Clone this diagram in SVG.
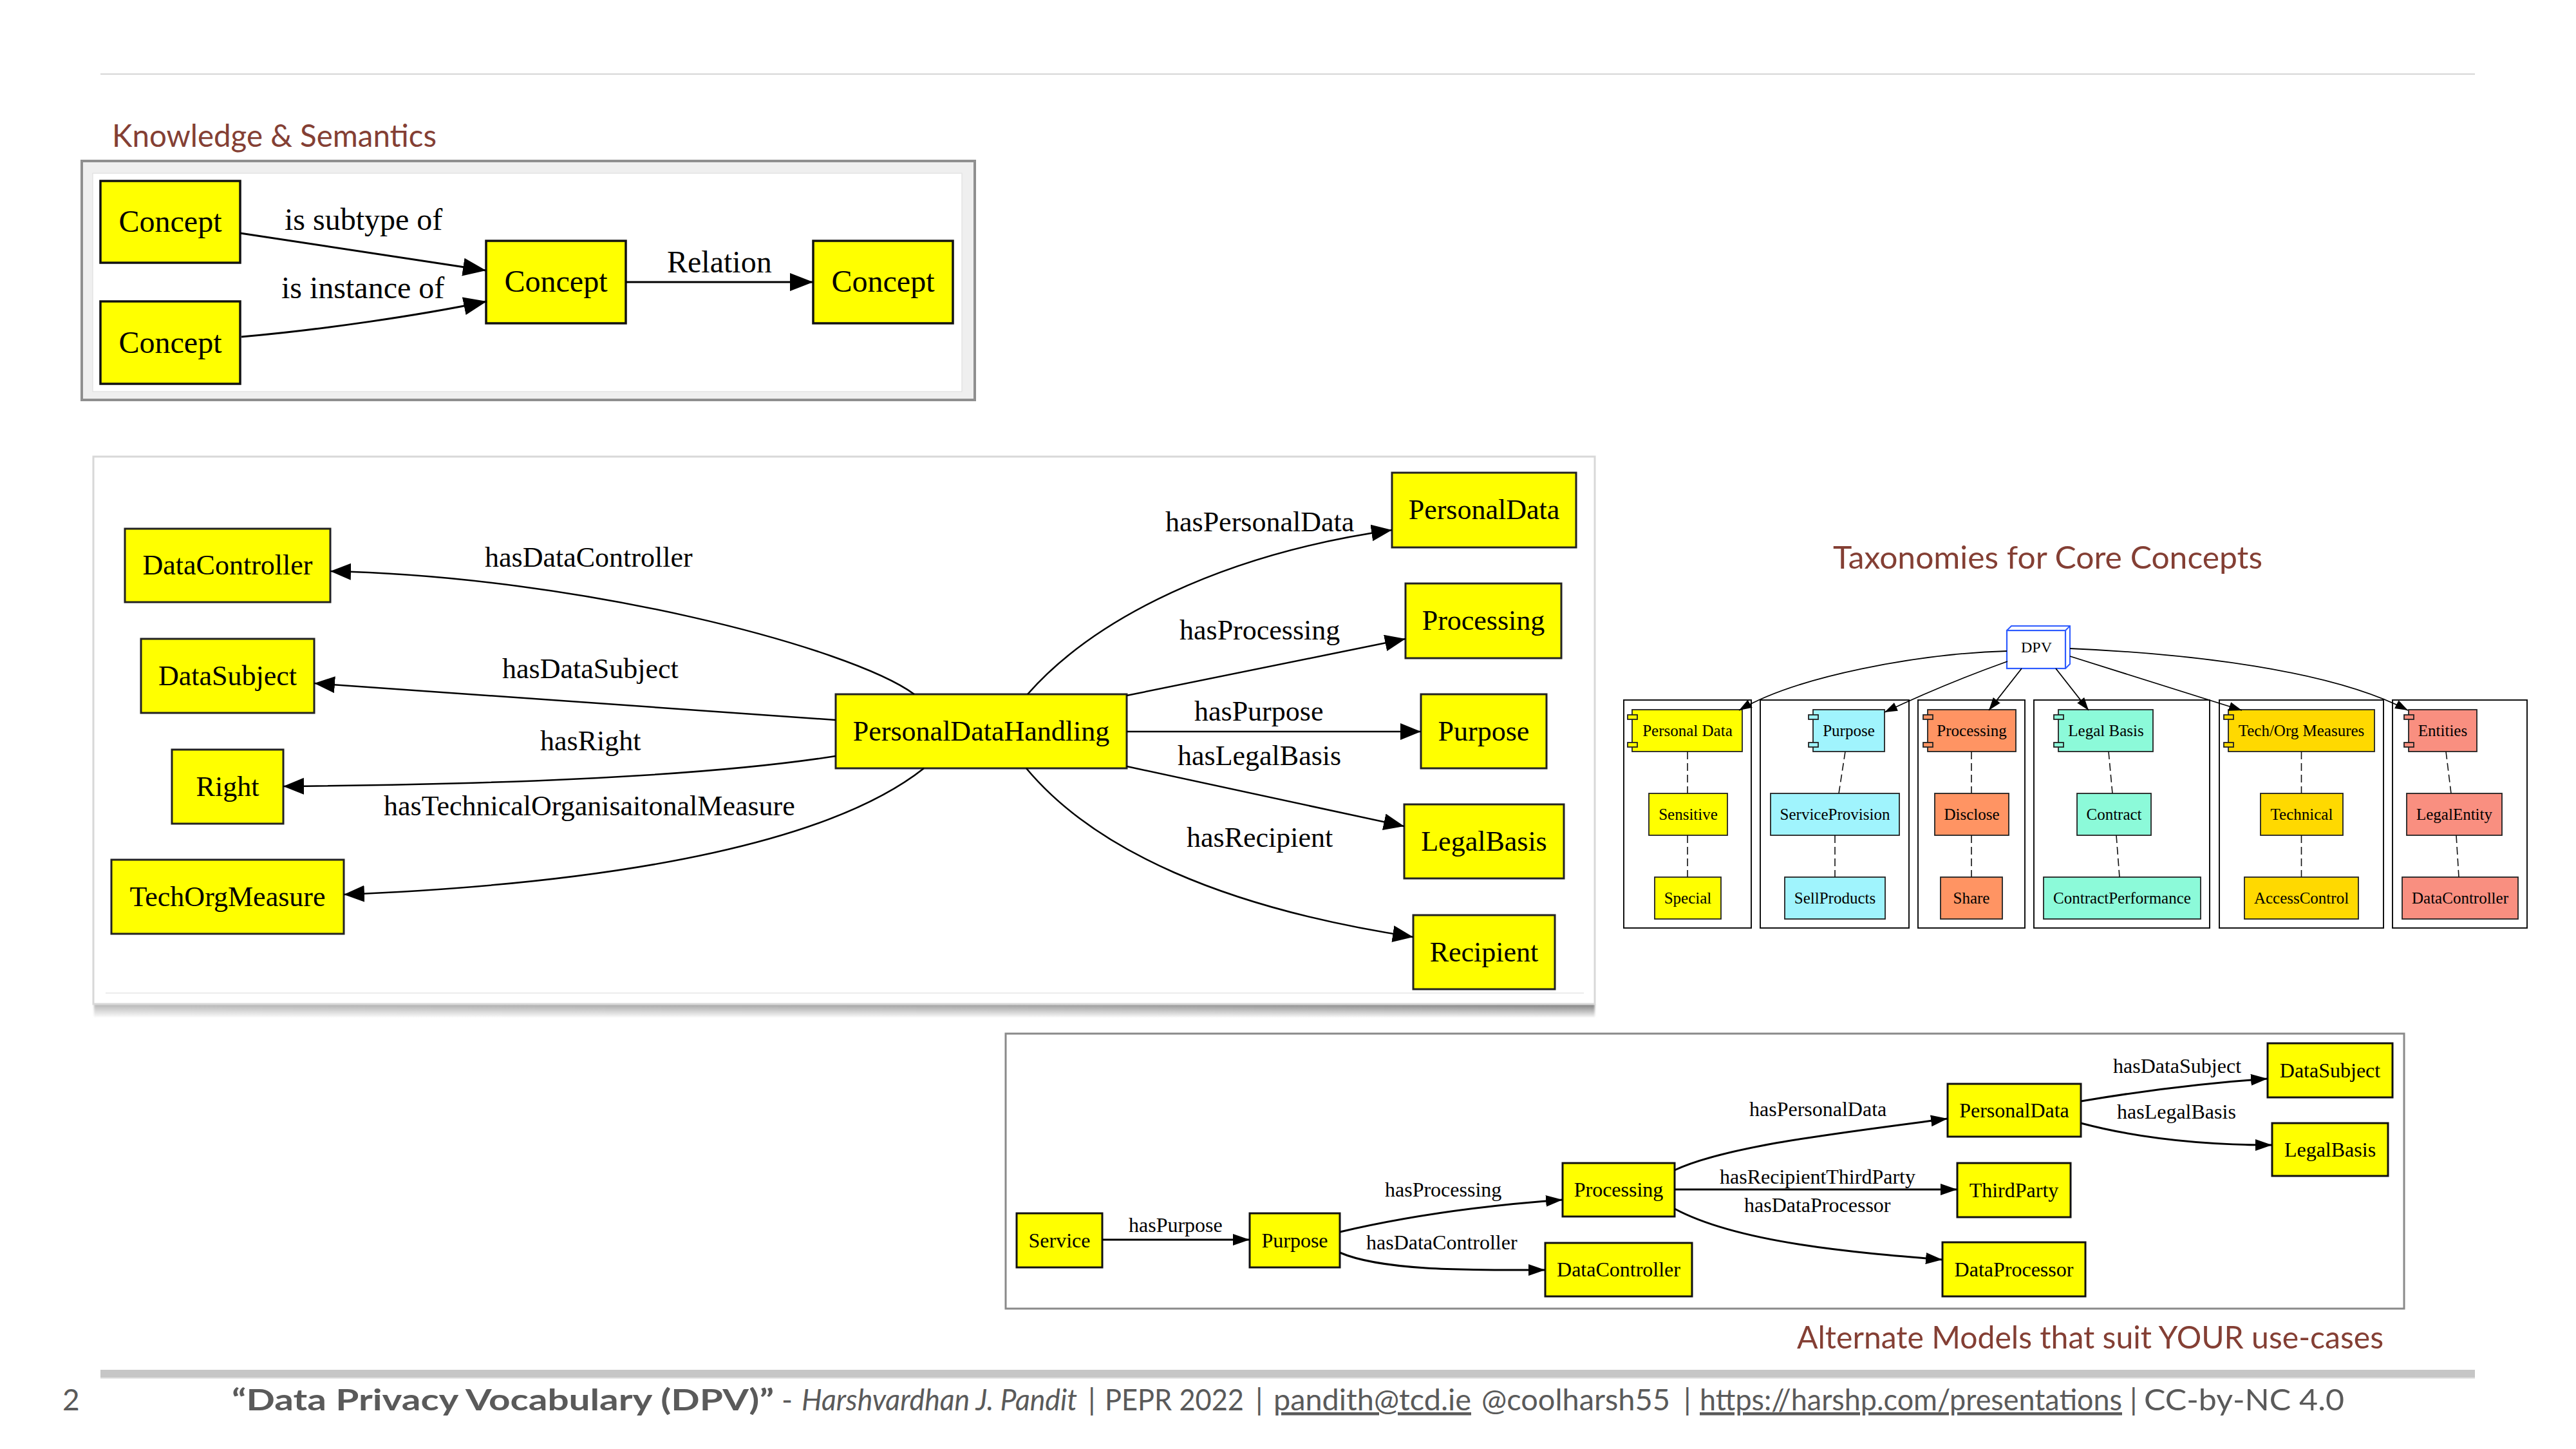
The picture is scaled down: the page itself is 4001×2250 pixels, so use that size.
<svg xmlns="http://www.w3.org/2000/svg" width="4001" height="2250" viewBox="0 0 4001 2250">
<style>
.h{font-family:Lato,"Open Sans",sans-serif;font-size:48px;fill:#843f34}
.s{font-family:"Liberation Serif","Times New Roman",serif;fill:#000}
.s48{font-size:48px}.s44{font-size:44px}.s32{font-size:32px}.s25{font-size:25px}.s24{font-size:24px}
.c{text-anchor:middle}
.ny{fill:#ffff00;stroke:#111;stroke-width:3.5}
.nc{fill:#ffff00;stroke:#222;stroke-width:3}
.na{fill:#ffff00;stroke:#111;stroke-width:3}
.nt{stroke:#222;stroke-width:1.8}
.cl{fill:none;stroke:#111;stroke-width:2}
.e{fill:none;stroke:#000}
.e1{stroke-width:3;marker-end:url(#aL)}
.e2{stroke-width:2.5;marker-end:url(#aM)}
.e3{stroke-width:3;marker-end:url(#aS)}
.e4{stroke-width:1.8;marker-end:url(#aT)}
.d{fill:none;stroke:#111;stroke-width:1.6;stroke-dasharray:12 6}
.yel{fill:#ffff00}.cya{fill:#a0f4fd}.org{fill:#ff9463}.aqu{fill:#8cfad9}.gld{fill:#ffd900}.sal{fill:#f98f80}
.f{font-family:Lato,"Open Sans",sans-serif;font-size:46px;fill:#5a5a5a}
</style>
<defs>
  <marker id="aL" markerUnits="userSpaceOnUse" markerWidth="40" markerHeight="32" refX="36" refY="14" orient="auto"><path d="M0,0 L36,14 L0,28 Z"/></marker>
  <marker id="aM" markerUnits="userSpaceOnUse" markerWidth="36" markerHeight="30" refX="32" refY="13" orient="auto"><path d="M0,0 L32,13 L0,26 Z"/></marker>
  <marker id="aS" markerUnits="userSpaceOnUse" markerWidth="30" markerHeight="22" refX="26" refY="9" orient="auto"><path d="M0,0 L26,9 L0,18 Z"/></marker>
  <marker id="aT" markerUnits="userSpaceOnUse" markerWidth="24" markerHeight="18" refX="20" refY="7" orient="auto"><path d="M0,0 L20,7 L0,14 Z"/></marker>
  <linearGradient id="shh" x1="0" y1="0" x2="1" y2="0"><stop offset="0" stop-color="#b4b4b4"/><stop offset="0.6" stop-color="#9a9a9a"/><stop offset="1" stop-color="#7a7a7a"/></linearGradient>
  <linearGradient id="fadeV" x1="0" y1="0" x2="0" y2="1"><stop offset="0" stop-color="#fff"/><stop offset="1" stop-color="#000"/></linearGradient>
  <mask id="shm" maskUnits="userSpaceOnUse" x="130" y="1550" width="2360" height="40"><rect x="130" y="1559" width="2360" height="22" fill="url(#fadeV)"/></mask>
  <filter id="bl" x="-0.01" y="-0.5" width="1.02" height="2"><feGaussianBlur stdDeviation="1.5"/></filter>
</defs>

<rect width="4001" height="2250" fill="#fff"/>
<!-- header rule -->
<rect x="156" y="114" width="3688" height="2" fill="#d6d6d6"/>

<!-- section titles -->
<text class="h" x="174" y="228" textLength="504" lengthAdjust="spacingAndGlyphs">Knowledge &amp; Semantics</text>
<text class="h" x="1114" y="1489" textLength="657" lengthAdjust="spacingAndGlyphs">The Base / Core Model in DPV</text>
<text class="h" x="2847" y="883" textLength="667" lengthAdjust="spacingAndGlyphs">Taxonomies for Core Concepts</text>
<text class="h" x="2791" y="2094" textLength="911" lengthAdjust="spacingAndGlyphs">Alternate Models that suit YOUR use-cases</text>

<!-- ===== Knowledge & Semantics panel ===== -->
<g id="panel-knowledge">
  <rect x="127" y="250" width="1387" height="371" fill="#efefef" stroke="#8f8f8f" stroke-width="4"/>
  <rect x="144" y="269" width="1350" height="339" fill="#fff" stroke="#e4e4e4" stroke-width="1.5"/>
</g>
<g id="k-concept-a"><rect class="ny" x="156" y="281" width="217" height="127"/><text class="s s48 c" x="264.5" y="360">Concept</text></g>
<g id="k-concept-b"><rect class="ny" x="156" y="468" width="217" height="128"/><text class="s s48 c" x="264.5" y="548">Concept</text></g>
<g id="k-concept-c"><rect class="ny" x="755" y="374" width="217" height="128"/><text class="s s48 c" x="863.5" y="453">Concept</text></g>
<g id="k-concept-d"><rect class="ny" x="1263" y="374" width="217" height="128"/><text class="s s48 c" x="1371.5" y="453">Concept</text></g>
<g id="k-edges">
  <path class="e e1" d="M373,362 L755,420"/>
  <path class="e e1" d="M375,523 C500,512 650,490 756,468"/>
  <path class="e e1" d="M972,438 L1263,438"/>
  <text class="s s48" x="442" y="357">is subtype of</text>
  <text class="s s48" x="437" y="463">is instance of</text>
  <text class="s s48" x="1036" y="423">Relation</text>
</g>

<!-- ===== Core model panel ===== -->
<g id="panel-core">
  <rect x="146" y="1559" width="2331" height="22" fill="url(#shh)" mask="url(#shm)" filter="url(#bl)"/>
  <rect x="145" y="709" width="2332" height="850" fill="#fff" stroke="#d8d8d8" stroke-width="3"/>
  <line x1="164" y1="1542" x2="2460" y2="1542" stroke="#e6e6e6" stroke-width="1.5"/>
</g>
<g id="c-datacontroller"><rect class="nc" x="194" y="821" width="319" height="114"/><text class="s s44 c" x="353.5" y="892">DataController</text></g>
<g id="c-datasubject"><rect class="nc" x="219" y="992" width="269" height="115"/><text class="s s44 c" x="353.5" y="1064">DataSubject</text></g>
<g id="c-right"><rect class="nc" x="267" y="1164" width="173" height="115"/><text class="s s44 c" x="353.5" y="1236">Right</text></g>
<g id="c-techorgmeasure"><rect class="nc" x="173" y="1335" width="361" height="115"/><text class="s s44 c" x="353.5" y="1407">TechOrgMeasure</text></g>
<g id="c-personaldatahandling"><rect class="nc" x="1298" y="1078" width="452" height="115"/><text class="s s44 c" x="1524" y="1150">PersonalDataHandling</text></g>
<g id="c-personaldata"><rect class="nc" x="2162" y="734" width="286" height="116"/><text class="s s44 c" x="2305" y="806">PersonalData</text></g>
<g id="c-processing"><rect class="nc" x="2183" y="906" width="242" height="116"/><text class="s s44 c" x="2304" y="978">Processing</text></g>
<g id="c-purpose"><rect class="nc" x="2207" y="1078" width="195" height="115"/><text class="s s44 c" x="2304.5" y="1150">Purpose</text></g>
<g id="c-legalbasis"><rect class="nc" x="2181" y="1249" width="248" height="115"/><text class="s s44 c" x="2305" y="1321">LegalBasis</text></g>
<g id="c-recipient"><rect class="nc" x="2195" y="1421" width="220" height="115"/><text class="s s44 c" x="2305" y="1493">Recipient</text></g>
<g id="c-edges">
  <path class="e e2" d="M1420,1078 C1320,1005 900,895 513,887"/>
  <path class="e e2" d="M1298,1118 L488,1061"/>
  <path class="e e2" d="M1298,1174 C1100,1205 800,1218 440,1221"/>
  <path class="e e2" d="M1435,1193 C1300,1300 1000,1370 534,1389"/>
  <path class="e e2" d="M1596,1078 C1700,960 1900,860 2162,823"/>
  <path class="e e2" d="M1750,1080 L2183,992"/>
  <path class="e e2" d="M1750,1136 L2207,1136"/>
  <path class="e e2" d="M1750,1190 L2181,1283"/>
  <path class="e e2" d="M1594,1193 C1700,1320 1900,1410 2195,1455"/>
  <text class="s s44" x="753" y="880">hasDataController</text>
  <text class="s s44" x="780" y="1053">hasDataSubject</text>
  <text class="s s44" x="839" y="1165">hasRight</text>
  <text class="s s44" x="596" y="1266">hasTechnicalOrganisaitonalMeasure</text>
  <text class="s s44" x="1810" y="825">hasPersonalData</text>
  <text class="s s44" x="1832" y="993">hasProcessing</text>
  <text class="s s44" x="1855" y="1119">hasPurpose</text>
  <text class="s s44" x="1829" y="1188">hasLegalBasis</text>
  <text class="s s44" x="1843" y="1315">hasRecipient</text>
</g>

<!-- ===== Taxonomies ===== -->
<g id="t-clusters">
  <rect class="cl" x="2522" y="1087" width="198" height="354"/>
  <rect class="cl" x="2734" y="1087" width="231" height="354"/>
  <rect class="cl" x="2979" y="1087" width="166" height="354"/>
  <rect class="cl" x="3159" y="1087" width="273" height="354"/>
  <rect class="cl" x="3447" y="1087" width="255" height="354"/>
  <rect class="cl" x="3716" y="1087" width="209" height="354"/>
</g>
<g id="t-dpv">
  <path d="M3117,979 L3124,972 L3215,972 L3215,1031 L3208,1038" fill="#fff" stroke="#2e5bff" stroke-width="2"/>
  <path d="M3208,979 L3215,972" fill="none" stroke="#2e5bff" stroke-width="2"/>
  <rect x="3117" y="979" width="91" height="59" fill="#fff" stroke="#2e5bff" stroke-width="2.2"/>
  <text class="s s24 c" x="3163" y="1013">DPV</text>
</g>
<g id="t-personal-data"><rect class="nt yel" x="2535" y="1102" width="171" height="65"/><rect class="nt yel" x="2528" y="1110" width="15" height="7"/><rect class="nt yel" x="2528" y="1153" width="15" height="7"/><text class="s s25 c" x="2621" y="1143">Personal Data</text></g>
<g id="t-sensitive"><rect class="nt yel" x="2561" y="1232" width="122" height="65"/><text class="s s25 c" x="2622" y="1273">Sensitive</text></g>
<g id="t-special"><rect class="nt yel" x="2570" y="1362" width="103" height="65"/><text class="s s25 c" x="2621.5" y="1403">Special</text></g>
<g id="t-purpose"><rect class="nt cya" x="2816" y="1102" width="111" height="65"/><rect class="nt cya" x="2809" y="1110" width="15" height="7"/><rect class="nt cya" x="2809" y="1153" width="15" height="7"/><text class="s s25 c" x="2871.5" y="1143">Purpose</text></g>
<g id="t-serviceprovision"><rect class="nt cya" x="2750" y="1232" width="200" height="65"/><text class="s s25 c" x="2850" y="1273">ServiceProvision</text></g>
<g id="t-sellproducts"><rect class="nt cya" x="2772" y="1362" width="156" height="65"/><text class="s s25 c" x="2850" y="1403">SellProducts</text></g>
<g id="t-processing"><rect class="nt org" x="2994" y="1102" width="137" height="65"/><rect class="nt org" x="2987" y="1110" width="15" height="7"/><rect class="nt org" x="2987" y="1153" width="15" height="7"/><text class="s s25 c" x="3062.5" y="1143">Processing</text></g>
<g id="t-disclose"><rect class="nt org" x="3005" y="1232" width="115" height="65"/><text class="s s25 c" x="3062.5" y="1273">Disclose</text></g>
<g id="t-share"><rect class="nt org" x="3014" y="1362" width="96" height="65"/><text class="s s25 c" x="3062" y="1403">Share</text></g>
<g id="t-legal-basis"><rect class="nt aqu" x="3197" y="1102" width="147" height="65"/><rect class="nt aqu" x="3190" y="1110" width="15" height="7"/><rect class="nt aqu" x="3190" y="1153" width="15" height="7"/><text class="s s25 c" x="3271" y="1143">Legal Basis</text></g>
<g id="t-contract"><rect class="nt aqu" x="3226" y="1232" width="115" height="65"/><text class="s s25 c" x="3283.5" y="1273">Contract</text></g>
<g id="t-contractperformance"><rect class="nt aqu" x="3174" y="1362" width="244" height="65"/><text class="s s25 c" x="3296" y="1403">ContractPerformance</text></g>
<g id="t-techorg-measures"><rect class="nt gld" x="3461" y="1102" width="227" height="65"/><rect class="nt gld" x="3454" y="1110" width="15" height="7"/><rect class="nt gld" x="3454" y="1153" width="15" height="7"/><text class="s s25 c" x="3574.5" y="1143">Tech/Org Measures</text></g>
<g id="t-technical"><rect class="nt gld" x="3511" y="1232" width="128" height="65"/><text class="s s25 c" x="3575" y="1273">Technical</text></g>
<g id="t-accesscontrol"><rect class="nt gld" x="3486" y="1362" width="177" height="65"/><text class="s s25 c" x="3574.5" y="1403">AccessControl</text></g>
<g id="t-entities"><rect class="nt sal" x="3741" y="1102" width="106" height="65"/><rect class="nt sal" x="3734" y="1110" width="15" height="7"/><rect class="nt sal" x="3734" y="1153" width="15" height="7"/><text class="s s25 c" x="3794" y="1143">Entities</text></g>
<g id="t-legalentity"><rect class="nt sal" x="3738" y="1232" width="148" height="65"/><text class="s s25 c" x="3812" y="1273">LegalEntity</text></g>
<g id="t-datacontroller"><rect class="nt sal" x="3731" y="1362" width="180" height="65"/><text class="s s25 c" x="3821" y="1403">DataController</text></g>
<g id="t-edges">
  <path class="e e4" d="M3117,1011 C2980,1015 2790,1050 2701,1103"/>
  <path class="e e4" d="M3118,1027 Q3020,1062 2927,1106"/>
  <path class="e e4" d="M3140,1038 L3089,1103"/>
  <path class="e e4" d="M3193,1038 L3244,1103"/>
  <path class="e e4" d="M3215,1019 L3482,1103"/>
  <path class="e e4" d="M3215,1007 C3400,1015 3620,1040 3740,1103"/>
  <path class="d" d="M2621,1167 L2621,1232 M2621,1297 L2621,1362"/>
  <path class="d" d="M2866,1167 L2856,1232 M2850,1297 L2850,1362"/>
  <path class="d" d="M3062,1167 L3062,1232 M3062,1297 L3062,1362"/>
  <path class="d" d="M3275,1167 L3281,1232 M3287,1297 L3292,1362"/>
  <path class="d" d="M3574.5,1167 L3574.5,1232 M3574.5,1297 L3574.5,1362"/>
  <path class="d" d="M3799,1167 L3807,1232 M3815,1297 L3819,1362"/>
</g>

<!-- ===== Alternate model panel ===== -->
<g id="panel-alt"><rect x="1562" y="1605" width="2172" height="427" fill="#fff" stroke="#8a8a8a" stroke-width="3"/></g>
<g id="a-service"><rect class="na" x="1579" y="1884" width="133" height="84"/><text class="s s32 c" x="1645.5" y="1937">Service</text></g>
<g id="a-purpose"><rect class="na" x="1941" y="1884" width="140" height="84"/><text class="s s32 c" x="2011" y="1937">Purpose</text></g>
<g id="a-processing"><rect class="na" x="2427" y="1806" width="174" height="83"/><text class="s s32 c" x="2514" y="1858">Processing</text></g>
<g id="a-datacontroller"><rect class="na" x="2400" y="1930" width="228" height="83"/><text class="s s32 c" x="2514" y="1982">DataController</text></g>
<g id="a-personaldata"><rect class="na" x="3025" y="1683" width="207" height="82"/><text class="s s32 c" x="3128.5" y="1735">PersonalData</text></g>
<g id="a-datasubject"><rect class="na" x="3522" y="1620" width="194" height="84"/><text class="s s32 c" x="3619" y="1673">DataSubject</text></g>
<g id="a-legalbasis"><rect class="na" x="3529" y="1744" width="180" height="82"/><text class="s s32 c" x="3619" y="1796">LegalBasis</text></g>
<g id="a-thirdparty"><rect class="na" x="3040" y="1806" width="176" height="84"/><text class="s s32 c" x="3128" y="1859">ThirdParty</text></g>
<g id="a-dataprocessor"><rect class="na" x="3017" y="1929" width="222" height="84"/><text class="s s32 c" x="3128" y="1982">DataProcessor</text></g>
<g id="a-edges">
  <path class="e e3" d="M1712,1925 L1941,1925"/>
  <path class="e e3" d="M2081,1913 C2200,1885 2330,1870 2427,1863"/>
  <path class="e e3" d="M2081,1945 C2150,1975 2300,1972 2400,1972"/>
  <path class="e e3" d="M2601,1817 C2680,1780 2850,1760 3025,1737"/>
  <path class="e e3" d="M2601,1847 L3040,1847"/>
  <path class="e e3" d="M2601,1877 C2700,1930 2880,1945 3017,1956"/>
  <path class="e e3" d="M3232,1710 C3350,1690 3450,1680 3522,1675"/>
  <path class="e e3" d="M3232,1744 C3330,1770 3440,1778 3529,1778"/>
  <text class="s s32" x="1753" y="1913">hasPurpose</text>
  <text class="s s32" x="2151" y="1858">hasProcessing</text>
  <text class="s s32" x="2122" y="1940">hasDataController</text>
  <text class="s s32" x="2717" y="1733">hasPersonalData</text>
  <text class="s s32" x="2671" y="1838">hasRecipientThirdParty</text>
  <text class="s s32" x="2709" y="1882">hasDataProcessor</text>
  <text class="s s32" x="3282" y="1666">hasDataSubject</text>
  <text class="s s32" x="3288" y="1737">hasLegalBasis</text>
</g>

<!-- ===== Footer ===== -->
<rect x="156" y="2127" width="3688" height="12" fill="#c6c6c6"/>
<rect x="156" y="2139" width="3688" height="2" fill="#e4e4e4"/>
<g id="footer">
  <text class="f" x="97" y="2190">2</text>
  <text class="f" x="360" y="2190" font-weight="bold" textLength="842" lengthAdjust="spacingAndGlyphs">“Data Privacy Vocabulary (DPV)”</text>
  <text class="f" x="1214" y="2190">-</text>
  <text class="f" x="1245" y="2190" font-style="italic" textLength="428" lengthAdjust="spacingAndGlyphs">Harshvardhan J. Pandit</text>
  <text class="f" x="1690" y="2190">|</text>
  <text class="f" x="1716" y="2190" textLength="216" lengthAdjust="spacingAndGlyphs">PEPR 2022</text>
  <text class="f" x="1950" y="2190">|</text>
  <text class="f" x="1978" y="2190" text-decoration="underline" textLength="307" lengthAdjust="spacingAndGlyphs">pandith@tcd.ie</text>
  <text class="f" x="2301" y="2190" textLength="293" lengthAdjust="spacingAndGlyphs">@coolharsh55</text>
  <text class="f" x="2615" y="2190">|</text>
  <text class="f" x="2640" y="2190" text-decoration="underline" textLength="656" lengthAdjust="spacingAndGlyphs">https://harshp.com/presentations</text>
  <text class="f" x="3308" y="2190">|</text>
  <text class="f" x="3330" y="2190" textLength="311" lengthAdjust="spacingAndGlyphs">CC-by-NC 4.0</text>
</g>
</svg>
